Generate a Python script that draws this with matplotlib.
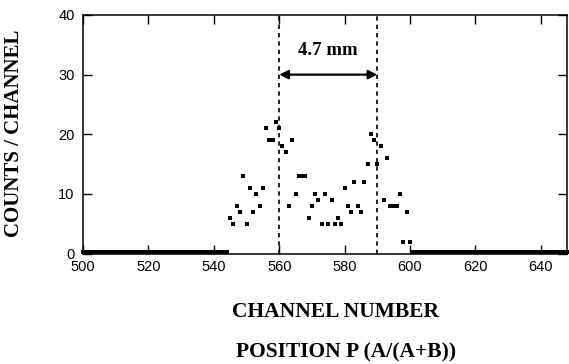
import numpy as np
import matplotlib.pyplot as plt

# data
channels = list(range(545, 601))
counts = [6, 5, 8, 7, 13, 5, 11, 7, 10, 8,
          11, 21, 19, 19, 22, 21, 18, 17, 8, 19,
          10, 13, 13, 13, 6, 8, 10, 9, 5, 10,
          5, 9, 5, 6, 5, 11, 8, 7, 12, 8,
          7, 12, 15, 20, 19, 15, 18, 9, 16, 8,
          8, 8, 10, 2, 7, 2]
zero_channels = list(range(500, 545)) + list(range(601, 649))
edges = [560, 590]
width_label = "4.7 mm"

serif = "Liberation Serif"
sans = "Liberation Sans"

fig = plt.figure(figsize=(5.69, 3.64), dpi=100)
ax = fig.add_axes([83 / 569, 1 - 253.5 / 364, (567 - 83) / 569, (253.5 - 15) / 364])

ax.plot(channels, counts, 's', color='black', ms=2.9, mew=0, clip_on=False, zorder=3)
ax.plot(zero_channels, np.zeros(len(zero_channels)) + 0.2, 's', color='black',
        ms=3.0, mew=0, clip_on=False, zorder=3)

for e in edges:
    ax.axvline(e, color='black', lw=1.2, dashes=(2.6, 2.4))

ax.annotate('', xy=(edges[0], 30), xytext=(edges[1], 30),
            arrowprops=dict(arrowstyle='<|-|>', color='black', lw=1.6,
                            mutation_scale=13, shrinkA=0, shrinkB=0))
ax.text((edges[0] + edges[1]) / 2, 34, width_label, ha='center', va='center',
        fontsize=13.5, fontweight='bold', family=serif)

ax.set_xlim(500, 648)
ax.set_ylim(0, 40)
ax.set_xticks(range(500, 641, 20))
ax.set_yticks(range(0, 41, 10))
ax.tick_params(direction='in', length=6.5, width=1.0, top=True, right=True,
               labelsize=10.5)
ax.tick_params(axis='x', pad=4.5)
ax.tick_params(axis='y', pad=6)
for lab in ax.get_xticklabels() + ax.get_yticklabels():
    lab.set_family(sans)
for sp in ax.spines.values():
    sp.set_linewidth(1.1)

fig.text(14 / 569, 1 - 133 / 364, "COUNTS / CHANNEL", rotation=90, ha='center', va='center',
         fontsize=15, fontweight='bold', family=serif)
fig.text(335 / 569, 1 - 312 / 364, "CHANNEL NUMBER", ha='center', va='center',
         fontsize=15.5, fontweight='bold', family=serif)
fig.text(346 / 569, 1 - 352 / 364, "POSITION P (A/(A+B))", ha='center', va='center',
         fontsize=15.5, fontweight='bold', family=serif)

fig.savefig('out.png', dpi=100)
